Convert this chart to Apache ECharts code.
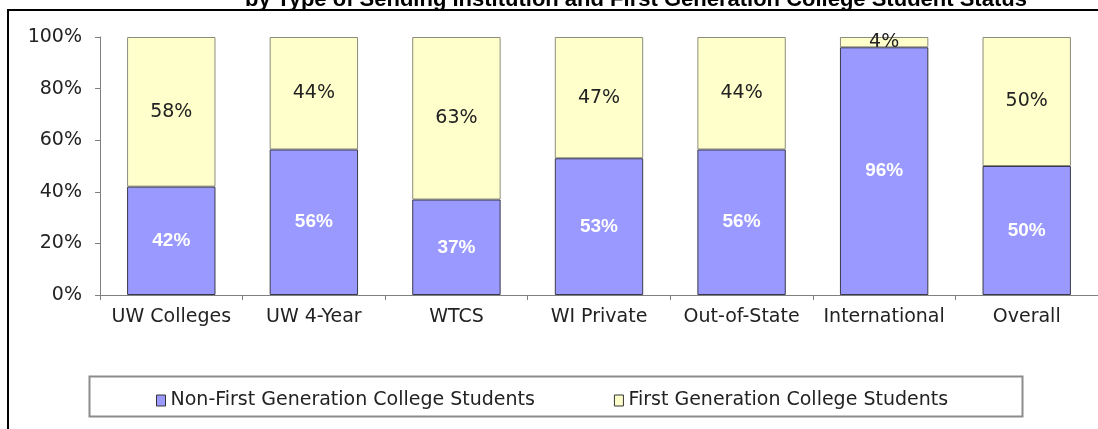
<!DOCTYPE html>
<html>
<head>
<meta charset="UTF-8">
<title>First Generation College Students by Sending Institution</title>
<script src="https://cdn.jsdelivr.net/npm/echarts@6/dist/echarts.min.js"></script>
<style>
    html, body { margin: 0; padding: 0; background: #fff; }
    #chart1 { width: 1098px; height: 429px; }
</style>
</head>
<body>
<div id="chart1"></div>
<script type="text/javascript">
// categories and values
var categories = ['UW Colleges', 'UW 4-Year', 'WTCS', 'WI Private', 'Out-of-State', 'International', 'Overall'];
var nonFirstGen = [42, 56.4, 37, 53, 56.4, 96, 50];
var firstGen = [58, 43.6, 63, 47, 43.6, 4, 50];
var yTicks = [0, 20, 40, 60, 80, 100];

var fontFamily = 'DejaVu Sans, Liberation Sans, Arial, sans-serif';
var chart1 = echarts.init(document.getElementById('chart1'));

var option = {
    backgroundColor: '#ffffff',
    animation: false,
    textStyle: { fontFamily: fontFamily },
    graphic: [
        {
            // outer frame, runs off the right and bottom edges
            type: 'rect',
            shape: { x: 8, y: 10, width: 1200, height: 500 },
            style: { fill: 'none', stroke: '#000', lineWidth: 2 },
            silent: true
        },
        {
            // legend box
            type: 'rect',
            shape: { x: 89.5, y: 376.5, width: 933, height: 40 },
            style: { fill: '#fff', stroke: '#8c8c8c', lineWidth: 2 },
            silent: true,
            z: 0
        },
        {
            // title, cut off at the top of the picture
            type: 'text',
            x: 636,
            y: 11,
            style: {
                text: 'by Type of Sending Institution and First Generation College Student Status',
                font: 'bold 22px Liberation Sans, Arial, sans-serif',
                fill: '#000',
                align: 'center',
                verticalAlign: 'bottom'
            },
            silent: true
        }
    ],
    legend: {
        left: 151,
        top: 386,
        itemWidth: 9,
        itemHeight: 11,
        itemGap: 79,
        icon: 'rect',
        textStyle: { fontSize: 19, color: '#222', fontFamily: fontFamily },
        itemStyle: { borderColor: '#333', borderWidth: 1 },
        data: ['Non-First Generation College Students', 'First Generation College Students']
    },
    grid: {
        left: 100,
        right: 0,
        top: 37,
        bottom: 134
    },
    xAxis: {
        type: 'category',
        data: categories,
        axisLine: { lineStyle: { color: '#808080', width: 1 } },
        axisTick: { show: true, interval: 0, length: 5, lineStyle: { color: '#808080' } },
        axisLabel: { interval: 0, hideOverlap: false, fontSize: 19, color: '#222', margin: 13, fontFamily: fontFamily }
    },
    yAxis: {
        type: 'value',
        min: yTicks[0],
        max: yTicks[yTicks.length - 1],
        interval: 20,
        splitLine: { show: false },
        axisLine: { show: true, lineStyle: { color: '#808080', width: 1 } },
        axisTick: { show: true, length: 5, lineStyle: { color: '#808080' } },
        axisLabel: { fontSize: 19, color: '#222', margin: 18, formatter: '{value}%', fontFamily: fontFamily }
    },
    series: [
        {
            name: 'Non-First Generation College Students',
            type: 'bar',
            stack: 'total',
            barWidth: '62%',
            z: 3,
            itemStyle: { color: '#9999ff', borderColor: '#3a3a4a', borderWidth: 1 },
            label: {
                show: true,
                position: 'inside',
                color: '#fff',
                fontWeight: 'bold',
                fontSize: 19,
                fontFamily: 'Liberation Sans, Arial, sans-serif',
                formatter: function (p) { return Math.round(p.value) + '%'; }
            },
            data: nonFirstGen
        },
        {
            name: 'First Generation College Students',
            type: 'bar',
            stack: 'total',
            barWidth: '62%',
            z: 2,
            itemStyle: { color: '#ffffcc', borderColor: '#8c8c7c', borderWidth: 1 },
            label: {
                show: true,
                position: 'inside',
                color: '#222',
                fontSize: 19,
                fontFamily: fontFamily,
                formatter: function (p) { return Math.round(p.value) + '%'; }
            },
            data: firstGen
        }
    ]
};

chart1.setOption(option);
</script>
</body>
</html>
